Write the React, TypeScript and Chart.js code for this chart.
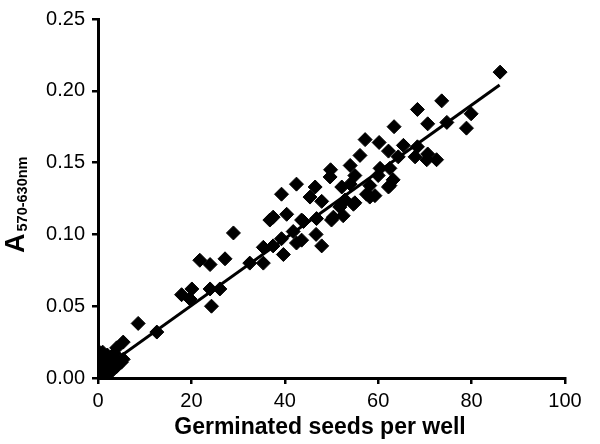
import React, { useEffect, useRef } from "react";
import { Chart, registerables } from "chart.js";

Chart.register(...registerables);

const seedsX: number[] = [
  0, 0, 0, 0, 0, 0, 0, 0.5, 0.5, 0.5, 1, 1, 1, 1, 1.5, 1.5, 2, 2, 2, 2.5, 3, 3, 3, 3.5, 4, 4, 4, 5, 5.4, 5.4,
  8.6, 12.6, 17.9, 19.7, 20.1, 21.8, 24.0, 24.0, 24.3, 26.1, 27.2, 29.0, 32.5, 35.4, 35.4, 36.8, 37.5, 37.5,
  39.3, 39.3, 39.7, 40.4, 41.8, 42.5, 42.5, 43.6, 43.6, 44.0, 45.4, 46.5, 46.7, 46.8, 47.9, 47.9, 49.7, 49.8,
  50.0, 50.4, 51.8, 52.2, 52.5, 52.9, 54.0, 54.0, 54.7, 55.0, 55.0, 56.1, 57.2, 57.5, 58.2, 58.2, 59.3, 60.0,
  60.2, 60.4, 62.2, 62.2, 62.5, 62.5, 63.2, 63.4, 64.3, 65.4, 67.9, 68.4, 68.4, 70.4, 70.6, 70.6, 72.5, 73.6,
  74.7, 78.9, 79.9, 86.1,
];
const absorbanceY: number[] = [
  0.001, 0.004, 0.007, 0.010, 0.013, 0.016, 0.019, 0.003, 0.009, 0.015, 0.002, 0.006, 0.011, 0.018, 0.005, 0.013,
  0.003, 0.008, 0.016, 0.011, 0.005, 0.009, 0.014, 0.017, 0.008, 0.012, 0.021, 0.011, 0.013, 0.025,
  0.038, 0.032, 0.058, 0.055, 0.062, 0.082, 0.079, 0.062, 0.050, 0.062, 0.083, 0.101, 0.080, 0.080, 0.091, 0.110,
  0.112, 0.092, 0.097, 0.128, 0.086, 0.114, 0.102, 0.094, 0.135, 0.110, 0.096, 0.109, 0.126, 0.133, 0.100, 0.111,
  0.092, 0.123, 0.140, 0.145, 0.110, 0.112, 0.119, 0.133, 0.113, 0.124, 0.148, 0.135, 0.121, 0.141, 0.122, 0.155,
  0.166, 0.128, 0.134, 0.126, 0.127, 0.141, 0.164, 0.146, 0.158, 0.133, 0.146, 0.134, 0.138, 0.175, 0.154, 0.162,
  0.154, 0.187, 0.161, 0.152, 0.177, 0.156, 0.152, 0.193, 0.178, 0.174, 0.184, 0.213,
];
const trendX: number[] = [0, 86];
const trendY: number[] = [0.004, 0.204];

const xTicks: number[] = [0, 20, 40, 60, 80, 100];
const yTicks: number[] = [0, 0.05, 0.1, 0.15, 0.2, 0.25];

const xTitle = "Germinated seeds per well";
const yTitleMain = "A";
const yTitleSub = "570-630nm";

const FONT = "'Liberation Sans', Arial, Helvetica, sans-serif";

const titlesPlugin = {
  id: "titles",
  afterDraw(chart: any) {
    const ctx = chart.ctx;
    ctx.save();
    ctx.fillStyle = "#000";
    // x title
    ctx.font = `bold 23px ${FONT}`;
    ctx.textAlign = "center";
    ctx.textBaseline = "alphabetic";
    ctx.fillText(xTitle, 320, 434);
    // y title
    ctx.translate(24, 253);
    ctx.rotate(-Math.PI / 2);
    ctx.textAlign = "left";
    ctx.font = `bold 27px ${FONT}`;
    ctx.fillText(yTitleMain, 0, 0);
    const w = ctx.measureText(yTitleMain).width;
    ctx.font = `bold 14.5px ${FONT}`;
    ctx.fillText(yTitleSub, w + 2, 3);
    ctx.restore();
  },
};

export default function App() {
  const ref = useRef<HTMLCanvasElement>(null);
  useEffect(() => {
    if (!ref.current) return;
    const points = seedsX.map((x, i) => ({ x, y: absorbanceY[i] }));
    const line = trendX.map((x, i) => ({ x, y: trendY[i] }));
    const chart = new Chart(ref.current, {
      type: "scatter",
      data: {
        datasets: [
          {
            type: "line",
            data: line,
            borderColor: "#000",
            borderWidth: 3,
            pointRadius: 0,
            showLine: true,
            fill: false,
          } as any,
          {
            data: points,
            pointStyle: "rectRot",
            pointRadius: 7,
            pointBackgroundColor: "#000",
            pointBorderColor: "#000",
            pointBorderWidth: 1,
          },
        ],
      },
      plugins: [titlesPlugin],
      options: {
        animation: false,
        responsive: false,
        maintainAspectRatio: false,
        layout: { padding: { top: 11, right: 35, left: 0, bottom: 0 } },
        plugins: { legend: { display: false }, tooltip: { enabled: false } },
        scales: {
          x: {
            type: "linear",
            min: 0,
            max: 100,
            afterBuildTicks: (s: any) => {
              s.ticks = xTicks.map((v) => ({ value: v }));
            },
            afterFit: (s: any) => {
              s.height = 66;
            },
            ticks: {
              color: "#000",
              font: { family: FONT, size: 20 },
              padding: 5,
              callback: (v: any) => String(v),
            },
            grid: { drawOnChartArea: false, drawTicks: true, tickLength: 6, color: "#000", lineWidth: 2.5 },
            border: { display: true, color: "#000", width: 3 },
          },
          y: {
            type: "linear",
            min: 0,
            max: 0.25,
            afterBuildTicks: (s: any) => {
              s.ticks = yTicks.map((v) => ({ value: v }));
            },
            afterFit: (s: any) => {
              s.width = 98;
            },
            ticks: {
              color: "#000",
              font: { family: FONT, size: 20 },
              padding: 7,
              callback: (v: any) => Number(v).toFixed(2),
            },
            grid: { drawOnChartArea: false, drawTicks: true, tickLength: 6, color: "#000", lineWidth: 2.5 },
            border: { display: true, color: "#000", width: 3 },
          },
        },
      },
    });
    return () => chart.destroy();
  }, []);
  return (
    <div style={{ position: "fixed", left: 0, top: 0, width: 600, height: 444, background: "#fff" }}>
      <canvas ref={ref} width={600} height={444} style={{ width: 600, height: 444 }} />
    </div>
  );
}
